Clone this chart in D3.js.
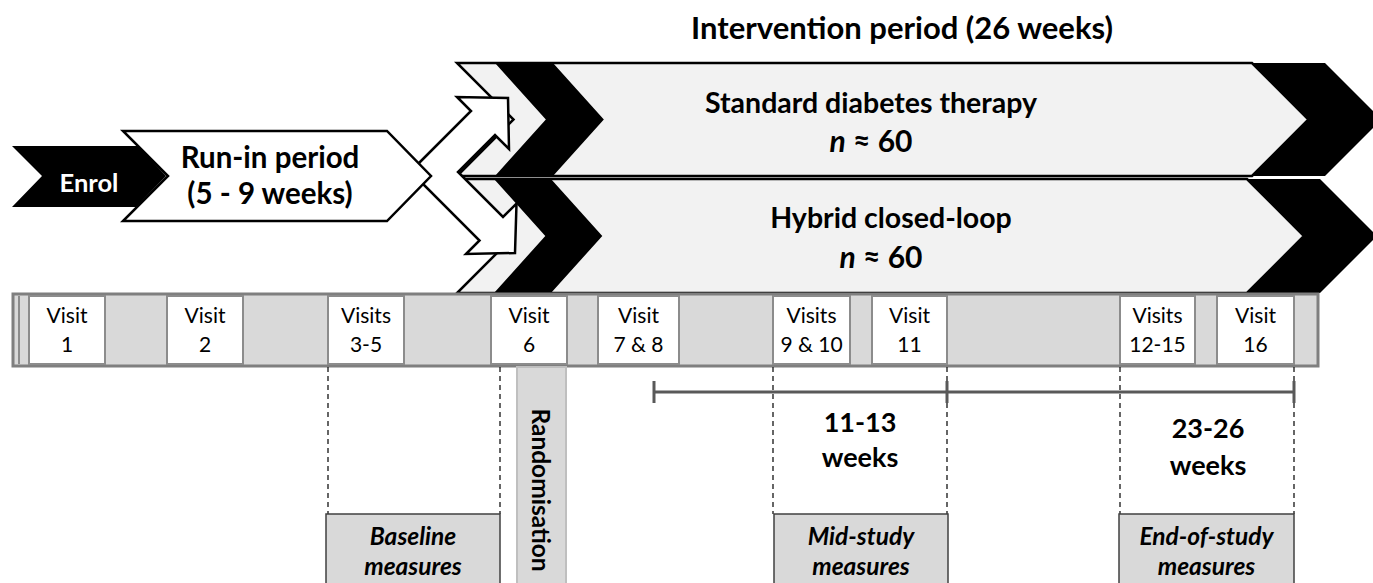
<!DOCTYPE html>
<html><head><meta charset="utf-8">
<script src="https://cdn.jsdelivr.net/npm/d3@7/dist/d3.min.js"></script>
<style>
html,body{margin:0;padding:0;background:#fff;}
svg{display:block;font-family:Lato,"Open Sans",sans-serif;}
</style></head>
<body>
<svg id="c" width="1373" height="583"></svg>
<script>
// ---------- data ----------
const titleText = "Intervention period (26 weeks)";
const armNames = ["Standard diabetes therapy", "Hybrid closed-loop"];
const armN = ["60", "60"];
const enrolText = "Enrol";
const runInText = ["Run-in period", "(5 - 9 weeks)"];
const visitTop = ["Visit","Visit","Visits","Visit","Visit","Visits","Visit","Visits","Visit"];
const visitBottom = ["1","2","3-5","6","7 & 8","9 & 10","11","12-15","16"];
// timeline units along the visit bar
const visitStart = [16, 154, 315, 478, 585, 760, 859, 1107, 1204];
const visitEnd   = [92, 230, 391, 554, 666, 837, 934, 1182, 1281];
const dashedAt   = [315, 487, 760, 934, 1107, 1281];
const measureFrom = [313, 761, 1106];
const measureTo   = [487, 935, 1281];
const measureTop = ["Baseline", "Mid-study", "End-of-study"];
const measureBottom = ["measures", "measures", "measures"];
const randomisationText = "Randomisation";
const randomFrom = 504, randomTo = 553;
const intervalTicks = [641, 934, 1281];
const intervalLabels = [["11-13","weeks"],["23-26","weeks"]];

// ---------- scales ----------
const W = 1373, H = 583;
const x = d3.scaleLinear().domain([0, 1305]).range([13, 1318]);
const svg = d3.select("#c");

function chevron(x0, x1, yT, yB, dL, dR) {
  const ym = (yT + yB) / 2;
  return [[x0,yT],[x1,yT],[x1+dR,ym],[x1,yB],[x0,yB],[x0+dL,ym]];
}
const line = d3.line();
const poly = p => line(p) + "Z";

// ---------- title ----------
svg.append("text").attr("x", 902).attr("y", 39).attr("text-anchor","middle")
  .attr("font-weight","bold").attr("font-size",31).text(titleText);

// ---------- arms ----------
const armGeo = [
  {yT:63, yB:176, gx1:1252, bl0:495, bl1:553, br1:1325, tx:871, ty1:113, ty2:152},
  {yT:179, yB:293, gx1:1247, bl0:494, bl1:551, br1:1320, tx:891, ty1:228, ty2:268}
];
const arm = svg.append("g");
armGeo.forEach((g, i) => {
  const h = (g.yB - g.yT) / 2;
  arm.append("path").attr("d", poly(chevron(457, g.gx1, g.yT, g.yB, h, h)))
    .attr("fill","#f2f2f2").attr("stroke","#000").attr("stroke-width",2.5);
  arm.append("path").attr("d", poly(chevron(g.bl0, g.bl1, g.yT, g.yB, h*0.9, h*0.9)))
    .attr("fill","#000");
  arm.append("path").attr("d", poly(chevron(g.gx1, g.br1, g.yT, g.yB, h, h)))
    .attr("fill","#000");
  arm.append("text").attr("x", g.tx).attr("y", g.ty1).attr("text-anchor","middle")
    .attr("font-weight","bold").attr("font-size", 28.5).text(armNames[i]);
  const t = arm.append("text").attr("x", g.tx - (i ? 10 : 0)).attr("y", g.ty2).attr("text-anchor","middle")
    .attr("font-weight","bold").attr("font-size",30);
  t.append("tspan").attr("font-style","italic").text("n");
  t.append("tspan").text(" \u2248 " + armN[i]);
});

// ---------- split arrows ----------
const arrowPts = [
  [410.5,171.5],[471,111],[457,97],[508,98],[509,149],[495,135],[458,172],
  [503,217],[516.5,203.5],[515,253],[466,254],[479.5,240.5]
];
svg.append("path").attr("d", poly(arrowPts)).attr("fill","#fff")
  .attr("stroke","#000").attr("stroke-width",2.5).attr("stroke-linejoin","miter");

// ---------- run-in & enrol ----------
svg.append("path").attr("d", poly(chevron(123, 387, 131, 221, 45, 44)))
  .attr("fill","#fff").attr("stroke","#000").attr("stroke-width",2.5);
svg.append("path").attr("d", poly([[12,146],[138,146],[166,176],[136,207],[12,207],[42,176]]))
  .attr("fill","#000");
svg.append("text").attr("x", 89).attr("y", 192).attr("text-anchor","middle")
  .attr("fill","#fff").attr("font-weight","bold").attr("font-size",25.5).text(enrolText);
runInText.forEach((s, i) => svg.append("text").attr("x", 270).attr("y", 168 + i*36)
  .attr("text-anchor","middle").attr("font-weight","bold").attr("font-size",29.5).text(s));

// ---------- visit bar ----------
const barT = 294, barB = 366;
svg.append("rect").attr("x", x(0)).attr("y", barT).attr("width", x(1305)-x(0)).attr("height", barB-barT)
  .attr("fill","#d9d9d9").attr("stroke","#7f7f7f").attr("stroke-width",3);
const cells = svg.append("g");
visitStart.forEach((s, i) => {
  cells.append("rect").attr("x", x(s)).attr("y", barT+2).attr("width", x(visitEnd[i])-x(s))
    .attr("height", barB-barT-4).attr("fill","#fff").attr("stroke","#8c8c8c").attr("stroke-width",2);
  const cx = (x(s) + x(visitEnd[i])) / 2;
  cells.append("text").attr("x", cx).attr("y", 323).attr("text-anchor","middle")
    .attr("font-size",21).text(visitTop[i]);
  cells.append("text").attr("x", cx).attr("y", 352).attr("text-anchor","middle")
    .attr("font-size",21).text(visitBottom[i]);
});
svg.append("line").attr("x1", x(6)).attr("x2", x(6)).attr("y1", barT+2).attr("y2", barB-2)
  .attr("stroke","#8c8c8c").attr("stroke-width",2);

// ---------- dashed connectors ----------
dashedAt.forEach(d => svg.append("line").attr("x1", x(d)).attr("x2", x(d))
  .attr("y1", barB+1).attr("y2", 514).attr("stroke","#000").attr("stroke-width",1.2)
  .attr("stroke-dasharray","5,4"));

// ---------- randomisation ----------
svg.append("rect").attr("x", x(randomFrom)).attr("y", barB+1).attr("width", x(randomTo)-x(randomFrom))
  .attr("height", H - barB + 10).attr("fill","#d9d9d9").attr("stroke","#bfbfbf").attr("stroke-width",2);
svg.append("text").attr("transform", `translate(${(x(randomFrom)+x(randomTo))/2},490) rotate(90)`)
  .attr("text-anchor","middle").attr("dominant-baseline","central")
  .attr("font-weight","bold").attr("font-size",24.5).text(randomisationText);

// ---------- measures boxes ----------
measureFrom.forEach((m, i) => {
  svg.append("rect").attr("x", x(m)).attr("y", 514).attr("width", x(measureTo[i]) - x(m))
    .attr("height", 90).attr("fill","#d9d9d9").attr("stroke","#404040").attr("stroke-width",1.5);
  const cx = (x(m) + x(measureTo[i])) / 2;
  svg.append("text").attr("x", cx).attr("y", 545).attr("text-anchor","middle")
    .attr("font-weight","bold").attr("font-style","italic").attr("font-size",24.5).text(measureTop[i]);
  svg.append("text").attr("x", cx).attr("y", 575).attr("text-anchor","middle")
    .attr("font-weight","bold").attr("font-style","italic").attr("font-size",24.5).text(measureBottom[i]);
});

// ---------- interval ruler ----------
const yR = 392;
svg.append("line").attr("x1", x(intervalTicks[0])).attr("x2", x(intervalTicks[2]))
  .attr("y1", yR).attr("y2", yR).attr("stroke","#595959").attr("stroke-width",3);
intervalTicks.forEach(t => svg.append("line").attr("x1", x(t)).attr("x2", x(t))
  .attr("y1", yR-11).attr("y2", yR+11).attr("stroke","#595959").attr("stroke-width",3));
const labelPos = [{cx:860, y1:432, y2:467}, {cx:1208, y1:438, y2:475}];
intervalLabels.forEach((l, i) => {
  svg.append("text").attr("x", labelPos[i].cx).attr("y", labelPos[i].y1).attr("text-anchor","middle")
    .attr("font-weight","bold").attr("font-size",27).text(l[0]);
  svg.append("text").attr("x", labelPos[i].cx).attr("y", labelPos[i].y2).attr("text-anchor","middle")
    .attr("font-weight","bold").attr("font-size",27).text(l[1]);
});
</script>
</body></html>
